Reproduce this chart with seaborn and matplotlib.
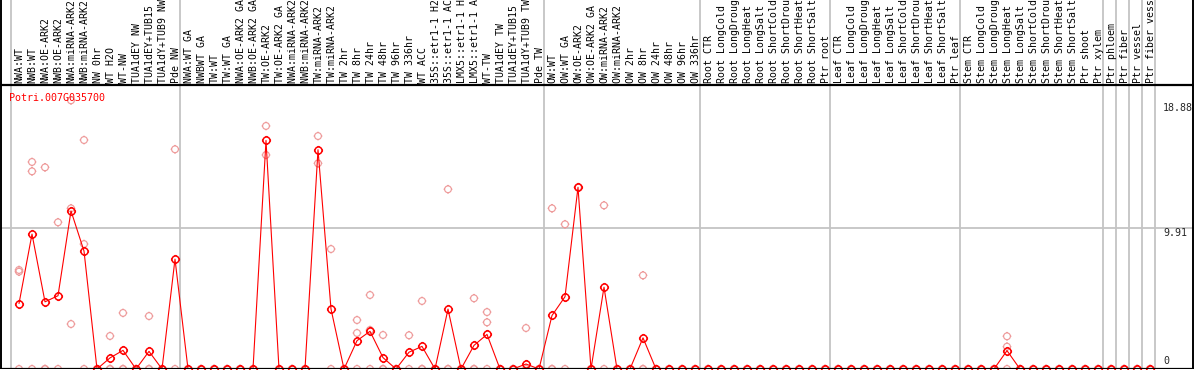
import numpy as np
import pandas as pd
import matplotlib
matplotlib.use('Agg')
import matplotlib.pyplot as plt
from matplotlib.path import Path
import seaborn as sns

sns.set_style('white')
plt.rcParams['font.family'] = ['DejaVu Sans Mono', 'DejaVu Sans']

gene = 'Potri.007G035700'

labels = ['NWA:WT', 'NWB:WT', 'NWA:OE-ARK2', 'NWB:OE-ARK2', 'NWA:miRNA-ARK2', 'NWB:miRNA-ARK2',
          'NW 0hr', 'WT H2O', 'WT-NW', 'TUA1dEY NW', 'TUA1dEY+TUB15 NW', 'TUA1dY+TUB9 NW', 'Pde NW',
          'NWA:WT GA', 'NWBWT GA', 'TW:WT', 'TW:WT GA', 'NWA:OE-ARK2 GA', 'NWB:OE-ARK2 GA',
          'TW:OE-ARK2', 'TW:OE-ARK2 GA', 'NWA:miRNA-ARK2 GA', 'NWB:miRNA-ARK2 GA', 'TW:miRNA-ARK2',
          'TW:miRNA-ARK2 GA', 'TW 2hr', 'TW 8hr', 'TW 24hr', 'TW 48hr', 'TW 96hr', 'TW 336hr',
          'WT ACC', '35S::etr1-1 H2O', '35S::etr1-1 ACC', 'LMX5::etr1-1 H2O', 'LMX5::etr1-1 ACC',
          'WT-TW', 'TUA1dEY TW', 'TUA1dEY+TUB15 TW', 'TUA1dY+TUB9 TW', 'Pde TW',
          'OW:WT', 'OW:WT GA', 'OW:OE-ARK2', 'OW:OE-ARK2 GA', 'OW:miRNA-ARK2', 'OW:miRNA-ARK2 GA',
          'OW 2hr', 'OW 8hr', 'OW 24hr', 'OW 48hr', 'OW 96hr', 'OW 336hr',
          'Root CTR', 'Root LongCold', 'Root LongDrought', 'Root LongHeat', 'Root LongSalt',
          'Root ShortCold', 'Root ShortDrought', 'Root ShortHeat', 'Root ShortSalt', 'Ptr root',
          'Leaf CTR', 'Leaf LongCold', 'Leaf LongDrought', 'Leaf LongHeat', 'Leaf LongSalt',
          'Leaf ShortCold', 'Leaf ShortDrought', 'Leaf ShortHeat', 'Leaf ShortSalt', 'Ptr leaf',
          'Stem CTR', 'Stem LongCold', 'Stem LongDrought', 'Stem LongHeat', 'Stem LongSalt',
          'Stem ShortCold', 'Stem ShortDrought', 'Stem ShortHeat', 'Stem ShortSalt', 'Ptr shoot',
          'Ptr xylem', 'Ptr phloem', 'Ptr fiber', 'Ptr vessel', 'Ptr fiber vessel']

group_sizes = [13, 28, 12, 10, 10, 11, 1, 1, 1, 1]

means = [4.6, 9.48, 4.72, 5.15, 11.11, 8.29, 0, 0.78, 1.31, 0, 1.24, 0, 7.72,
         0, 0, 0, 0, 0, 0, 16.06, 0, 0, 0, 15.41, 4.22, 0, 1.99, 2.65, 0.8, 0, 1.18, 1.59,
         0, 4.21, 0, 1.66, 2.43, 0, 0, 0.35, 0,
         3.76, 5.08, 12.77, 0, 5.75, 0, 0, 2.19, 0, 0, 0, 0,
         0, 0, 0, 0, 0, 0, 0, 0, 0, 0,
         0, 0, 0, 0, 0, 0, 0, 0, 0, 0,
         0, 0, 0, 1.29, 0, 0, 0, 0, 0, 0, 0,
         0, 0, 0, 0]

z = [0, 0]
reps = [[6.96, 6.84, 0], [14.55, 13.89, 0], [14.17, 0, 0], [10.31, 0], [18.88, 11.29, 3.16],
        [16.09, 8.78, 0], z, [2.32, 0, 0], [3.94, 0, 0], z, [3.72, 0, 0], z, [15.44, 0],
        z, z, z, z, z, z, [17.08, 15.04], z, z, z, [16.37, 14.45], [8.43, 0], z,
        [3.44, 2.53, 0], [5.2, 2.74, 0], [2.39, 0, 0], z, [2.37, 0], [4.78, 0, 0], z,
        [12.63, 0, 0], z, [4.97, 0, 0], [4.0, 3.28, 0], z, z, [2.88, 0], z,
        [11.29, 0, 0], [10.17, 0], [12.77], z, [11.5, 0], z, z, [6.58, 0, 0], z, z, z, z,
        z, z, z, z, z, z, z, z, z, z,
        z, z, z, z, z, z, z, z, z, z,
        z, z, z, [2.3, 1.57, 0], z, z, z, z, z, z, z,
        z, z, z, z]

y_ticks = [0, 9.91, 18.88]

mean_df = pd.DataFrame({'pos': np.arange(len(labels)), 'value': means})
rep_df = pd.DataFrame([(i, v) for i, vals in enumerate(reps) for v in vals], columns=['pos', 'value'])

# circle marker with small outward ticks
circle = Path.unit_circle()
ticks = Path([(0, 1), (0, 1.3), (0, -1), (0, -1.3), (1, 0), (1.3, 0), (-1, 0), (-1.3, 0)],
             [Path.MOVETO, Path.LINETO] * 4)
ring = Path.make_compound_path(circle, ticks)

W, H = 1194, 370
px = 13.0
x0 = 19.0
ppu = 14.23
xlim = (-x0 / px, (W - x0) / px)

fig = plt.figure(figsize=(W / 100, H / 100), dpi=100)
ax = fig.add_axes([0, 1 / H, 1, 284 / H])
hx = fig.add_axes([0, 285 / H, 1, 85 / H])

ax.set_xlim(*xlim)
ax.set_ylim(0, 284 / ppu)
hx.set_xlim(*xlim)
hx.set_ylim(0, 85)
for a in (ax, hx):
    a.set_axis_off()

grey = '#c4c4c4'
bounds = np.cumsum([0] + group_sizes) - 0.65
for b in bounds:
    ax.axvline(b, color=grey, lw=1.3, zorder=1)
    hx.axvline(b, color=grey, lw=1.3, zorder=1)
ax.axhline(y_ticks[1], color=grey, lw=1.3, zorder=1)

edge_l = (1 - x0) / px
edge_r = (W - 1 - x0) / px
for a in (ax, hx):
    a.axvline(edge_l, color='black', lw=1.4, zorder=5)
    a.axvline(edge_r, color='black', lw=1.4, zorder=5)
ax.axhline(0, color='black', lw=1.6, zorder=5)
hx.axhline(0, color='black', lw=1.6, zorder=5, clip_on=False)

sns.scatterplot(data=rep_df, x='pos', y='value', ax=ax, marker=ring, s=40,
                facecolor='none', edgecolor='#ee9a9a', linewidth=0.85, zorder=2, legend=False)
sns.lineplot(data=mean_df, x='pos', y='value', ax=ax, estimator=None, color='red', lw=0.8,
             marker=ring, markersize=6.6, markerfacecolor='none', markeredgecolor='red',
             markeredgewidth=1.1, zorder=3, legend=False)
ax.set_xlim(*xlim)
ax.set_ylim(0, 284 / ppu)
ax.set_axis_off()

for i, lab in enumerate(labels):
    hx.text(i + 0.05, 2, lab, rotation=90, ha='center', va='bottom', fontsize=7.1, color='black')

ax.text(-10 / px, (284 - 8) / ppu, gene, color='red', fontsize=7.2, ha='left', va='top')

tick_x = (1163 - x0) / px
ax.text(tick_x, y_ticks[2] - 2.5 / ppu, f'{y_ticks[2]:.2f}', fontsize=7.2, ha='left', va='top')
ax.text(tick_x, y_ticks[1] - 0.5 / ppu, f'{y_ticks[1]:.2f}', fontsize=7.2, ha='left', va='top')
ax.text(tick_x, y_ticks[0] + 3 / ppu, f'{y_ticks[0]}', fontsize=7.2, ha='left', va='bottom')

fig.savefig('out.png', dpi=100)
